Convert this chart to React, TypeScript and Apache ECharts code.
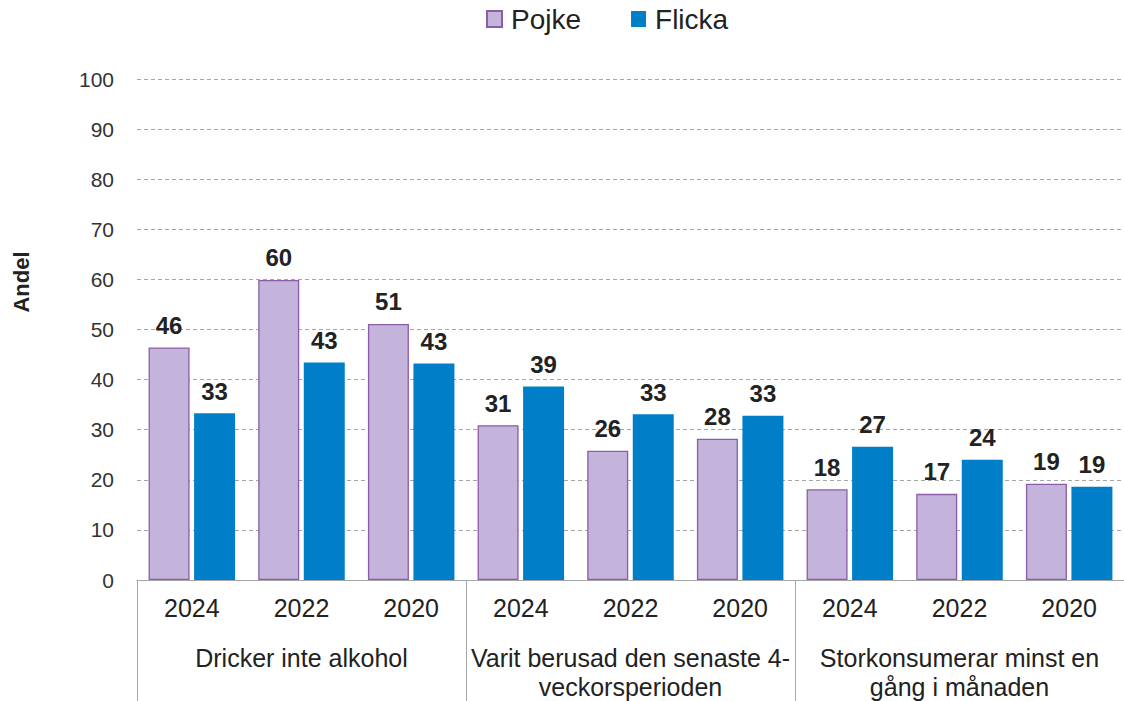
import React, { useEffect, useRef } from "react";
import * as echarts from "echarts";

const years = ["2024", "2022", "2020", "2024", "2022", "2020", "2024", "2022", "2020"];
const groups = [
  "Dricker inte alkohol",
  "Varit berusad den senaste 4-\nveckorsperioden",
  "Storkonsumerar minst en\ngång i månaden",
];
const pojke = [46.4, 59.9, 51.1, 30.9, 25.8, 28.2, 18.1, 17.2, 19.2];
const flicka = [33.3, 43.4, 43.2, 38.6, 33.1, 32.8, 26.6, 24.0, 18.6];
const seriesNames = ["Pojke", "Flicka"];
const yAxisName = "Andel";

const FONT = "'Liberation Sans', Arial, sans-serif";

export default function App() {
  const ref = useRef<HTMLDivElement>(null);
  useEffect(() => {
    if (!ref.current) return;
    const chart = echarts.init(ref.current, null, { renderer: "svg" });
    const label = {
      show: true,
      position: "top",
      distance: 10,
      fontFamily: FONT,
      fontSize: 24,
      fontWeight: "bold",
      color: "#222",
      formatter: (p: any) => String(Math.round(p.value)),
    };
    chart.setOption({
      animation: false,
      textStyle: { fontFamily: FONT },
      legend: {
        top: 0,
        left: 481,
        itemWidth: 15,
        itemHeight: 16,
        itemGap: 50,
        icon: "rect",
        textStyle: { fontSize: 28, color: "#222", fontFamily: FONT, padding: [0, 0, 0, 4] },
        data: seriesNames,
      },
      grid: { left: 137, top: 79, width: 990, height: 501 },
      xAxis: [
        {
          type: "category",
          data: years,
          position: "bottom",
          axisLine: { show: true, lineStyle: { color: "#a6a6a6", width: 1 } },
          axisTick: { show: false },
          axisLabel: { fontSize: 25, color: "#222", margin: 14, fontFamily: FONT, lineHeight: 28 },
        },
        {
          type: "category",
          data: groups,
          position: "bottom",
          axisLine: { show: false },
          axisTick: { show: true, length: 125, interval: 0, lineStyle: { color: "#a6a6a6", width: 1 } },
          axisLabel: { fontSize: 25, color: "#222", margin: 63, fontFamily: FONT, lineHeight: 29, interval: 0 },
        },
      ],
      yAxis: {
        type: "value",
        min: 0,
        max: 100,
        interval: 10,
        axisLine: { show: false },
        axisTick: { show: false },
        axisLabel: { fontSize: 21, color: "#333", margin: 23, fontFamily: FONT },
        splitLine: { show: true, lineStyle: { color: "#a6a6a6", type: [4, 3], width: 1 } },
      },
      graphic: [
        {
          type: "text",
          x: 21,
          y: 282,
          rotation: Math.PI / 2,
          style: {
            text: yAxisName,
            fontFamily: FONT,
            fontSize: 22,
            fontWeight: "bold",
            fill: "#222",
            align: "center",
            verticalAlign: "middle",
          },
        },
      ],
      series: [
        {
          name: seriesNames[0],
          type: "bar",
          xAxisIndex: 0,
          data: pojke,
          barWidth: 41,
          barGap: "11%",
          itemStyle: { color: "#C4B3DA", borderColor: "#8B5CA8", borderWidth: 1.3 },
          label,
        },
        {
          name: seriesNames[1],
          type: "bar",
          xAxisIndex: 0,
          data: flicka,
          barWidth: 41,
          barGap: "11%",
          itemStyle: { color: "#007FC8" },
          label,
        },
      ],
    });
    return () => chart.dispose();
  }, []);
  return (
    <div
      ref={ref}
      style={{ position: "fixed", left: 0, top: 0, width: 1124, height: 701, background: "#fff" }}
    />
  );
}
